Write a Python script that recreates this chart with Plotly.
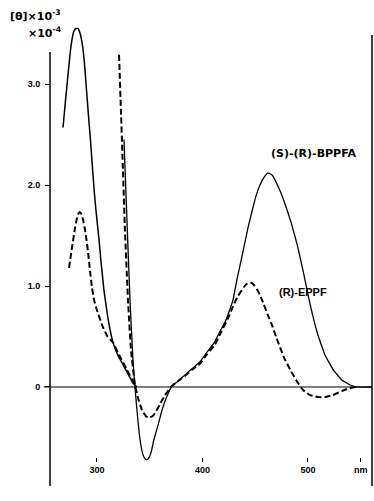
import plotly.graph_objects as go

# (S)-(R)-BPPFA, short-wavelength band (x10^-4 scale)
bppfa_a_nm = [267.8, 270.0, 272.5, 274.5, 276.3, 278.0, 280.0, 282.0, 284.0, 286.0, 288.0,
              290.0, 292.0, 294.0, 296.0, 298.1, 300.0, 302.0, 304.0, 306.6, 310.4, 315.2,
              320.0, 323.7, 329.4, 334.1, 337.9]
bppfa_a_val = [2.57, 2.82, 3.09, 3.30, 3.44, 3.52, 3.55, 3.55, 3.50, 3.40, 3.22,
               2.95, 2.68, 2.42, 2.13, 1.85, 1.65, 1.45, 1.22, 0.96, 0.68, 0.44,
               0.31, 0.24, 0.13, 0.04, 0.0]

# (S)-(R)-BPPFA, long-wavelength part (x10^-3 scale)
bppfa_b_nm = [325.6, 328.4, 331.3, 334.1, 336.0, 337.9, 340.8, 343.6, 345.5, 347.4, 349.3, 351.2, 354.0,
              357.8, 361.6, 366.4, 371.1, 377.0, 383.4, 390.0, 397.6, 404.0, 411.8, 416.0, 421.3, 425.0,
              428.9, 433.0, 438.4, 443.0, 447.9, 451.0, 454.5, 458.0, 462.1, 466.0, 472.0, 478.0,
              484.0, 490.0, 496.0, 502.0, 509.0, 516.0, 524.0, 532.0, 540.0, 546.0, 560.7]
bppfa_b_val = [2.45, 1.65, 0.86, 0.27, 0.0, -0.23, -0.52, -0.67, -0.71, -0.72, -0.70, -0.65, -0.52,
               -0.38, -0.23, -0.09, 0.01, 0.06, 0.12, 0.18, 0.25, 0.34, 0.45, 0.54, 0.64, 0.74,
               0.86, 1.08, 1.34, 1.57, 1.78, 1.90, 2.00, 2.07, 2.12, 2.10, 1.98, 1.82,
               1.63, 1.40, 1.12, 0.82, 0.53, 0.32, 0.17, 0.07, 0.02, 0.0, 0.0]

# (R)-EPPF, short-wavelength band (x10^-4 scale)
eppf_a_nm = [273.5, 276.3, 279.1, 281.0, 282.5, 283.9, 285.3, 286.7, 288.6, 290.0, 291.5, 293.4,
             295.3, 297.5, 300.0, 305.7, 310.0, 315.2, 321.8, 328.4, 336.0]
eppf_a_val = [1.18, 1.38, 1.57, 1.67, 1.72, 1.73, 1.71, 1.66, 1.56, 1.46, 1.34, 1.15,
              0.98, 0.85, 0.76, 0.59, 0.50, 0.44, 0.30, 0.17, 0.02]

# (R)-EPPF, long-wavelength part (x10^-3 scale)
eppf_b_nm = [320.9, 322.7, 324.6, 326.5, 329.4, 332.2, 336.0, 338.9, 342.7, 346.4, 348.3, 350.2,
             352.5, 355.0, 359.7, 364.5, 370.1, 377.0, 383.4, 390.0, 397.6, 404.0, 411.8, 418.0, 424.2,
             429.0, 433.6, 439.3, 441.8, 444.1, 446.5, 448.8, 451.5, 454.5, 458.0, 462.1, 466.0, 469.7,
             477.3, 484.8, 490.5, 495.3, 501.9, 509.5, 516.1, 523.7, 532.2, 539.8, 545.5]
eppf_b_val = [3.29, 2.74, 2.15, 1.55, 0.86, 0.37, 0.02, -0.11, -0.23, -0.29, -0.30, -0.30,
              -0.29, -0.26, -0.17, -0.08, 0.0, 0.06, 0.11, 0.17, 0.23, 0.32, 0.42, 0.55, 0.68,
              0.80, 0.90, 0.99, 1.02, 1.03, 1.03, 1.01, 0.97, 0.91, 0.82, 0.71, 0.61, 0.50,
              0.29, 0.14, 0.04, -0.03, -0.08, -0.10, -0.10, -0.08, -0.04, -0.01, 0.0]

x_ticks = [300, 400, 500]
x_ticktext = ["300", "400", "500"]
x_unit_pos = 550
x_unit = "nm"
y_ticks = [0, 1, 2, 3]
y_ticktext = ["0", "1.0", "2.0", "3.0"]

W, H = 374, 501
XR = [208.06, 562.6]
YR = [-1.129, 3.832]

fig = go.Figure()
solid = dict(color="black", width=1.5)
thin = dict(color="black", width=1.3)
dashed = dict(color="black", width=2, dash="6px,3px")
for xs, ys, ln in [(bppfa_a_nm, bppfa_a_val, solid), (bppfa_b_nm, bppfa_b_val, thin),
                   (eppf_a_nm, eppf_a_val, dashed), (eppf_b_nm, eppf_b_val, dashed)]:
    fig.add_trace(go.Scatter(x=xs, y=ys, mode="lines", line=dict(shape="spline", smoothing=0.3, **ln),
                             showlegend=False, hoverinfo="skip"))

def px_x(p):
    return p / W

def px_y(p):
    return 1 - p / H

# axis lines
fig.add_shape(type="line", xref="paper", yref="paper", x0=px_x(50), x1=px_x(50), y0=px_y(52), y1=px_y(486),
              line=dict(color="black", width=1.5))
fig.add_shape(type="line", xref="paper", yref="y", x0=px_x(44), x1=px_x(372), y0=0, y1=0,
              line=dict(color="black", width=1.2))
fig.add_shape(type="line", xref="paper", yref="paper", x0=px_x(372), x1=px_x(372), y0=px_y(35), y1=px_y(486),
              line=dict(color="black", width=1.5))

tickfont = dict(family="Liberation Sans", size=9, color="black", weight="bold")
fig.update_layout(
    width=W, height=H, margin=dict(l=0, r=0, t=0, b=0),
    paper_bgcolor="white", plot_bgcolor="white",
    xaxis=dict(range=XR, showgrid=False, zeroline=False, showline=False, anchor="free",
               position=px_y(457), ticks="outside", ticklen=4, tickwidth=1.2, tickcolor="black",
               tickvals=x_ticks, ticktext=x_ticktext, tickfont=tickfont,
               minor=dict(tickvals=[x_unit_pos], ticks="outside", ticklen=4, tickwidth=1.2, tickcolor="black",
                          showgrid=False)),
    yaxis=dict(range=YR, showgrid=False, zeroline=False, showline=False, anchor="free",
               position=px_x(50), ticks="outside", ticklen=5, tickwidth=1.2, tickcolor="black",
               ticklabelstandoff=3,
               tickvals=y_ticks, ticktext=y_ticktext, tickfont=tickfont),
)

fig.add_annotation(xref="x", yref="paper", x=x_unit_pos, y=px_y(470), xanchor="center", yanchor="middle",
                   text=x_unit, showarrow=False, font=tickfont)

hdrfont = dict(family="DejaVu Sans", size=11, color="black", weight="bold")
fig.add_annotation(xref="paper", yref="paper", x=px_x(8), y=px_y(16), xanchor="left", yanchor="middle",
                   text="[θ]×10<sup>-3</sup>", showarrow=False, font=hdrfont)
fig.add_annotation(xref="paper", yref="paper", x=px_x(26), y=px_y(32), xanchor="left", yanchor="middle",
                   text="×10<sup>-4</sup>", showarrow=False, font=hdrfont)
fig.add_annotation(xref="paper", yref="paper", x=px_x(313), y=px_y(153), xanchor="center", yanchor="middle",
                   text="(S)-(R)-BPPFA", showarrow=False,
                   font=dict(family="DejaVu Sans", size=11, color="black", weight="bold"))
fig.add_annotation(xref="paper", yref="paper", x=px_x(303), y=px_y(292), xanchor="center", yanchor="middle",
                   text="(R)-EPPF", showarrow=False,
                   font=dict(family="Liberation Sans", size=11, color="black", weight="bold"))

fig.write_html("out.html", post_script="document.body.style.margin='0';",
               config={"displayModeBar": False})
